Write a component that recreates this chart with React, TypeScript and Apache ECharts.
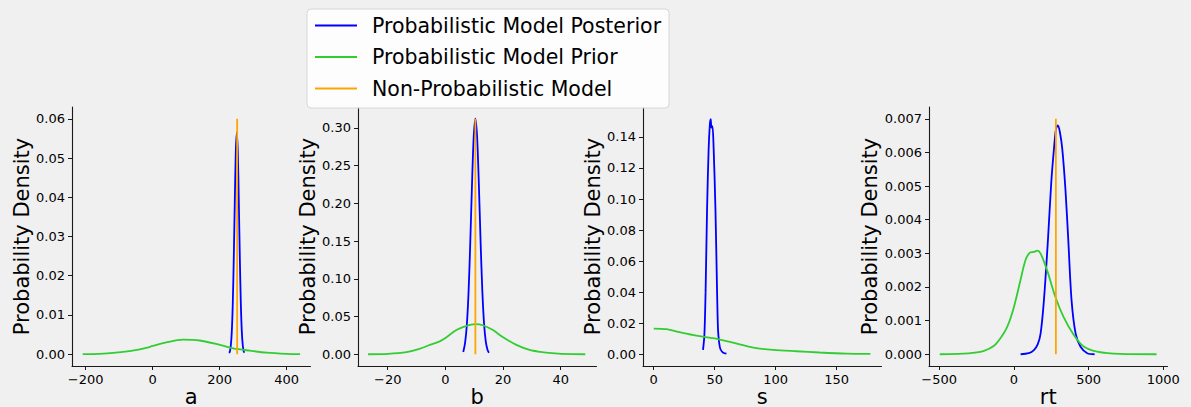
import React, { useEffect, useRef } from 'react';
import * as echarts from 'echarts';

// ---------- data ----------
const POSTERIOR = 'Probabilistic Model Posterior';
const PRIOR = 'Probabilistic Model Prior';
const NONPROB = 'Non-Probabilistic Model';

// panel a
const aPostX = [227, 230, 233, 236, 239, 242, 245, 248, 251, 254, 257, 260, 263, 266, 269, 272, 274];
const aPostY = [0.0004, 0.0006, 0.0021, 0.0057, 0.013, 0.0247, 0.039, 0.0515, 0.0565, 0.0515, 0.039, 0.0247, 0.013, 0.0057, 0.0021, 0.0006, 0.0004];
const aPriorX = [-209, -160, -110, -60, -20, 0, 40, 90, 140, 200, 240, 290, 340, 400, 440];
const aPriorY = [0.00002, 0.0001, 0.0004, 0.0009, 0.0016, 0.0021, 0.003, 0.0037, 0.0035, 0.0024, 0.0015, 0.0009, 0.0004, 0.0001, 0.00002];
const aPoint = 252;
const aPointTop = 0.06;

// panel b
const bPostX = [6.2, 6.8, 7.4, 8.0, 8.6, 9.2, 9.8, 10.4, 11.0, 11.6, 12.2, 12.8, 13.4, 14.0, 14.6, 15.1];
const bPostY = [0.003, 0.0143, 0.0367, 0.079, 0.144, 0.221, 0.286, 0.312, 0.288, 0.226, 0.15, 0.085, 0.041, 0.017, 0.006, 0.002];
const bPriorX = [-26.8, -20, -13.5, -9, -5.4, -2, 0, 3.8, 7.3, 10.3, 13, 16.5, 20, 24.6, 29.2, 33, 36, 40.8, 48.5];
const bPriorY = [0, 0.0005, 0.0027, 0.007, 0.0124, 0.017, 0.0215, 0.032, 0.0376, 0.0398, 0.0384, 0.032, 0.0225, 0.0124, 0.0057, 0.003, 0.0018, 0.0004, 0];
const bPoint = 10.4;
const bPointTop = 0.312;

// panel s
const sPostX = [40.4, 41.5, 42.5, 43.7, 45, 46, 46.7, 47.3, 48.1, 49, 50.6, 51.8, 52.7, 53.7, 54.7, 57, 59.6];
const sPostY = [0.0028, 0.012, 0.04, 0.093, 0.132, 0.148, 0.1514, 0.146, 0.147, 0.135, 0.093, 0.045, 0.0157, 0.007, 0.0032, 0.001, 0.0004];
const sPriorX = [0, 10.4, 21.3, 35, 48.6, 62.3, 76, 84, 97.8, 117, 136, 158, 177.6];
const sPriorY = [0.0165, 0.0161, 0.0142, 0.012, 0.0103, 0.0079, 0.0052, 0.0039, 0.0028, 0.0019, 0.0011, 0.0004, 0.0002];

// panel rt
const rtPostX = [45, 100, 134, 160, 179, 201, 228, 250, 268, 282, 294, 308, 324, 345, 364, 386, 413, 446, 491, 540];
const rtPostY = [0, 0.00003, 0.00012, 0.0003, 0.00062, 0.0016, 0.0034, 0.0051, 0.0061, 0.0067, 0.0068, 0.0066, 0.0061, 0.0049, 0.0034, 0.0016, 0.00062, 0.00022, 0.00003, 0];
const rtPriorX = [-496, -380, -289, -200, -133, -89, -44, 0, 44, 78, 107, 133, 156, 178, 222, 278, 333, 400, 467, 556, 711, 955];
const rtPriorY = [0, 0.00001, 0.00003, 0.0001, 0.00025, 0.00048, 0.00082, 0.0014, 0.0022, 0.0028, 0.00302, 0.00304, 0.00308, 0.003, 0.0025, 0.0017, 0.0011, 0.00058, 0.00023, 0.00008, 0.00001, 0];
const rtPoint = 281;
const rtPointTop = 0.007;

// tick labels
const aXTicks = [-200, 0, 200, 400];
const aYTicks = [0, 0.01, 0.02, 0.03, 0.04, 0.05, 0.06];
const bXTicks = [-20, 0, 20, 40];
const bYTicks = [0, 0.05, 0.1, 0.15, 0.2, 0.25, 0.3];
const sXTicks = [0, 50, 100, 150];
const sYTicks = [0, 0.02, 0.04, 0.06, 0.08, 0.1, 0.12, 0.14];
const rtXTicks = [-500, 0, 500, 1000];
const rtYTicks = [0, 0.001, 0.002, 0.003, 0.004, 0.005, 0.006, 0.007];

const zip = (xs: number[], ys: number[]) => xs.map((x, i) => [x, ys[i]]);

const FONT = 'DejaVu Sans';

interface Panel {
  name: string;
  post: number[][];
  prior: number[][];
  point: number[][] | null;
  xTicks: number[];
  yTicks: number[];
  yDec: number;
  xRange: [number, number];
  yRange: [number, number];
  left: number;
}

const panels: Panel[] = [
  {
    name: 'a', post: zip(aPostX, aPostY), prior: zip(aPriorX, aPriorY),
    point: [[aPoint, 0], [aPoint, aPointTop]], xTicks: aXTicks, yTicks: aYTicks, yDec: 2,
    xRange: [-241, 471], yRange: [-0.003, 0.063], left: 72,
  },
  {
    name: 'b', post: zip(bPostX, bPostY), prior: zip(bPriorX, bPriorY),
    point: [[bPoint, 0], [bPoint, bPointTop]], xTicks: bXTicks, yTicks: bYTicks, yDec: 2,
    xRange: [-30.3, 52.4], yRange: [-0.0156, 0.3276], left: 358,
  },
  {
    name: 's', post: zip(sPostX, sPostY), prior: zip(sPriorX, sPriorY),
    point: null, xTicks: sXTicks, yTicks: sYTicks, yDec: 2,
    xRange: [-8.8, 186.7], yRange: [-0.0076, 0.1593], left: 643,
  },
  {
    name: 'rt', post: zip(rtPostX, rtPostY), prior: zip(rtPriorX, rtPriorY),
    point: [[rtPoint, 0], [rtPoint, rtPointTop]], xTicks: rtXTicks, yTicks: rtYTicks, yDec: 3,
    xRange: [-568, 1028], yRange: [-0.00035, 0.00735], left: 929,
  },
];

const minus = (s: string) => s.replace('-', '\u2212');

export default function App() {
  const ref = useRef<HTMLDivElement>(null);

  useEffect(() => {
    if (!ref.current) return;
    const chart = echarts.init(ref.current, undefined, { renderer: 'svg' });

    const axisLine = { show: true, onZero: false, lineStyle: { color: '#1a1a1a', width: 1.1 } };
    const grid: any[] = [];
    const xAxis: any[] = [];
    const yAxis: any[] = [];
    const series: any[] = [];

    panels.forEach((p, i) => {
      grid.push({ left: p.left, top: 107, width: 238.5, height: 259, containLabel: false, outerBoundsMode: 'none' });
      xAxis.push({
        type: 'value', gridIndex: i, min: p.xRange[0], max: p.xRange[1],
        name: p.name, nameLocation: 'middle', nameGap: 20, nameMoveOverlap: false,
        nameTextStyle: { fontSize: 21, color: '#000', fontFamily: FONT },
        axisLine,
        axisTick: { show: true, length: 4, lineStyle: { color: '#1a1a1a', width: 1 }, customValues: p.xTicks },
        axisLabel: {
          show: true, margin: 7, fontSize: 13, color: '#000', fontFamily: FONT,
          customValues: p.xTicks, formatter: (v: number) => minus(String(v)),
        },
        splitLine: { show: false },
      });
      yAxis.push({
        type: 'value', gridIndex: i, min: p.yRange[0], max: p.yRange[1],
        name: 'Probability Density', nameLocation: 'middle', nameGap: 36,
        nameTextStyle: { fontSize: 21, color: '#000', fontFamily: FONT },
        axisLine,
        axisTick: { show: true, length: 4, lineStyle: { color: '#1a1a1a', width: 1 }, customValues: p.yTicks },
        axisLabel: {
          show: true, margin: 7, fontSize: 13, color: '#000', fontFamily: FONT,
          customValues: p.yTicks, formatter: (v: number) => v.toFixed(p.yDec),
        },
        splitLine: { show: false },
      });
      series.push({
        name: POSTERIOR, type: 'line', xAxisIndex: i, yAxisIndex: i, data: p.post,
        symbol: 'none', smooth: 0.3, lineStyle: { color: '#0000ff', width: 1.8 }, itemStyle: { color: '#0000ff' },
      });
      series.push({
        name: PRIOR, type: 'line', xAxisIndex: i, yAxisIndex: i, data: p.prior,
        symbol: 'none', smooth: 0.3, lineStyle: { color: '#32cd32', width: 1.8 }, itemStyle: { color: '#32cd32' },
      });
      if (p.point) {
        series.push({
          name: NONPROB, type: 'line', xAxisIndex: i, yAxisIndex: i, data: p.point,
          symbol: 'none', lineStyle: { color: '#ffa500', width: 1.8 }, itemStyle: { color: '#ffa500' },
        });
      }
    });

    chart.setOption({
      animation: false,
      backgroundColor: '#f0f0f0',
      textStyle: { fontFamily: FONT },
      grid,
      xAxis,
      yAxis,
      series,
      legend: {
        show: true,
        left: 307, top: 9, orient: 'vertical',
        padding: [6, 8, 9, 8], itemGap: 10.5, itemWidth: 42, itemHeight: 1.8,
        icon: 'rect',
        backgroundColor: 'rgba(255,255,255,0.85)', borderColor: '#d6d6d6', borderWidth: 1, borderRadius: 4,
        textStyle: { fontSize: 20.5, color: '#000', fontFamily: FONT, lineHeight: 20, padding: [0, 0, 0, 10] },
        data: [POSTERIOR, PRIOR, NONPROB],
        selectedMode: false,
      },
    });

    return () => chart.dispose();
  }, []);

  return (
    <div
      ref={ref}
      style={{ position: 'fixed', left: 0, top: 0, width: 1191, height: 407 }}
    />
  );
}
